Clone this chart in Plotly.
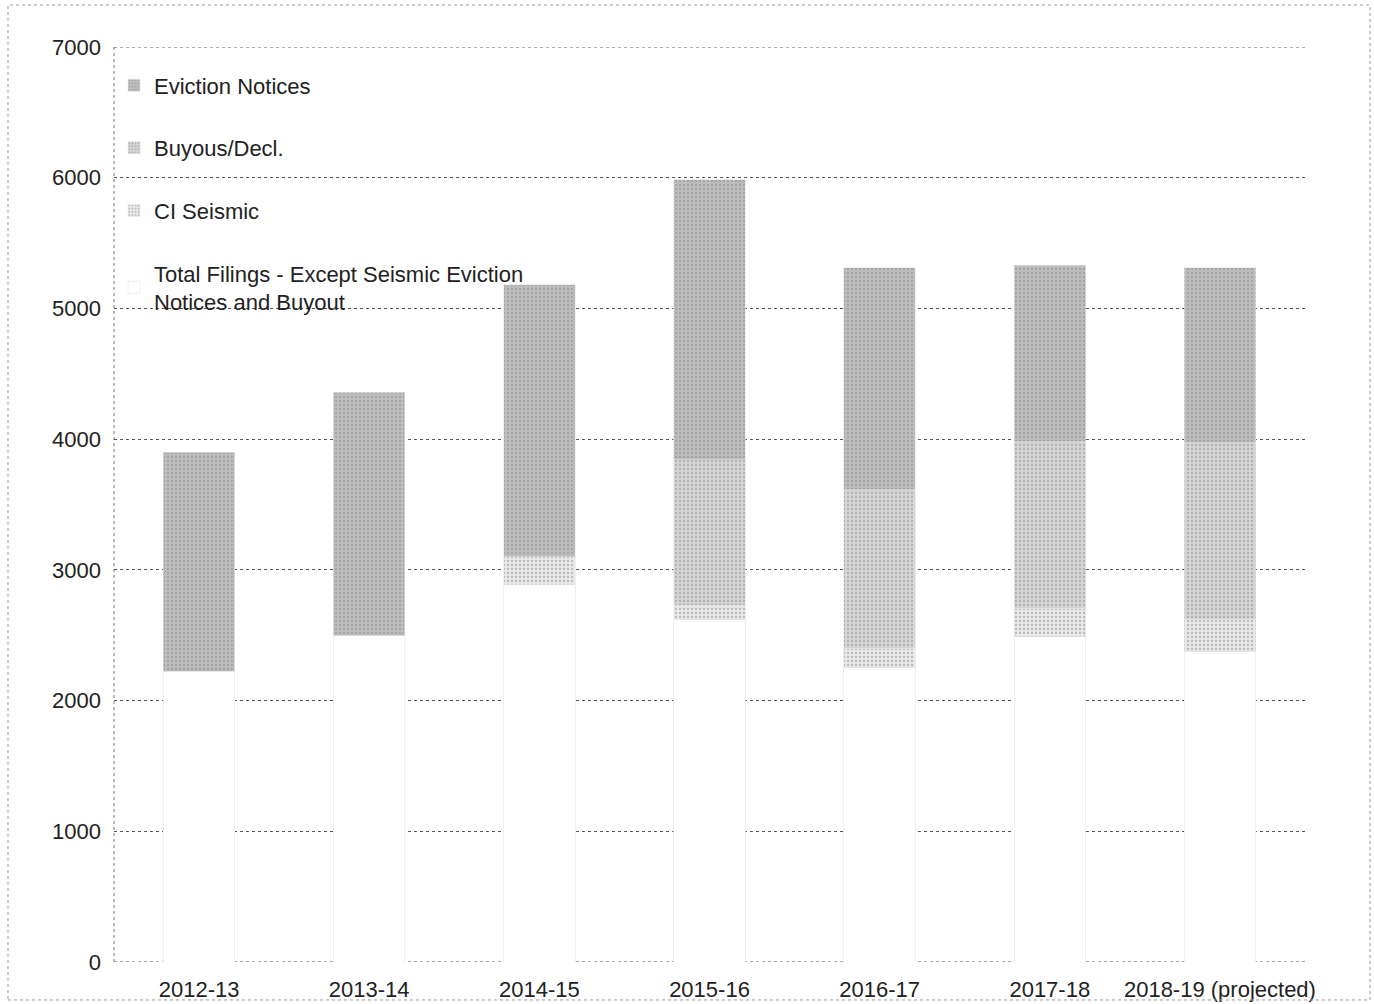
import plotly.graph_objects as go

years = ["2012-13", "2013-14", "2014-15", "2015-16", "2016-17", "2017-18", "2018-19 (projected)"]
total_filings = [2225, 2495, 2885, 2617, 2250, 2487, 2372]
ci_seismic = [0, 0, 215, 114, 152, 220, 252]
buyouts = [0, 0, 0, 1110, 1209, 1272, 1347]
eviction_notices = [1676, 1865, 2080, 2142, 1700, 1353, 1340]

font_family = "Liberation Sans, Arial, Helvetica, sans-serif"

fig = go.Figure()
series = [
    ("Total Filings - Except Seismic Eviction<br>Notices and Buyout", total_filings, "#ffffff", 4),
    ("CI Seismic", ci_seismic, "#e8e8e8", 3),
    ("Buyous/Decl.", buyouts, "#d4d4d4", 2),
    ("Eviction Notices", eviction_notices, "#bcbcbc", 1),
]
for i, (name, vals, col, rank) in enumerate(series):
    fig.add_trace(go.Bar(
        x=years, y=vals, name=name, legendgroup=f"g{i}", legendrank=rank,
        marker=dict(color=col, line=dict(color="#e4e4e4", width=0.6),
                    pattern=dict(shape="." if i > 0 else "", fgcolor="#8a8a8a",
                                 size=4, solidity=0.25)),
    ))

fig.update_layout(
    barmode="stack",
    bargap=0.58,
    width=1374, height=1004,
    margin=dict(l=114, r=69, t=47, b=42),
    paper_bgcolor="white", plot_bgcolor="white",
    font=dict(family=font_family, size=22, color="#222"),
    legend=dict(x=0.0, y=0.981, xanchor="left", yanchor="top",
                traceorder="grouped", tracegroupgap=31,
                font=dict(size=22, color="#222"), bgcolor="rgba(0,0,0,0)",
                itemwidth=30),
    showlegend=True,
)
fig.update_yaxes(range=[0, 7000], dtick=1000, showgrid=True, gridcolor="#555",
                 griddash="dot", gridwidth=1, zeroline=False, automargin=False,
                 showline=False, ticks="", ticklabelstandoff=12,
                 tickfont=dict(size=22, color="#222"))
fig.update_xaxes(showgrid=False, showline=False, ticks="", ticklabelstandoff=12,
                 automargin=False, tickfont=dict(size=22, color="#222"))

# edge lines (top gridline, baseline, left axis) drawn dotted
for y in (0, 7000):
    fig.add_shape(type="line", xref="paper", yref="y", x0=0, x1=1, y0=y, y1=y,
                  line=dict(color="#555", width=1, dash="dot"), layer="below")
fig.add_shape(type="line", xref="paper", yref="y", x0=0, x1=0, y0=0, y1=7000,
              line=dict(color="#777", width=1, dash="dot"), layer="below")

# outer frame of the scanned page
fig.add_shape(type="rect", xref="paper", yref="paper",
              x0=-0.089, x1=1.0546, y0=-0.0415, y1=1.0459,
              line=dict(color="#999", width=1, dash="dot"))

fig.write_html("out.html", config={"displayModeBar": False},
               post_script="document.body.style.margin='0';document.body.style.overflow='hidden';")
